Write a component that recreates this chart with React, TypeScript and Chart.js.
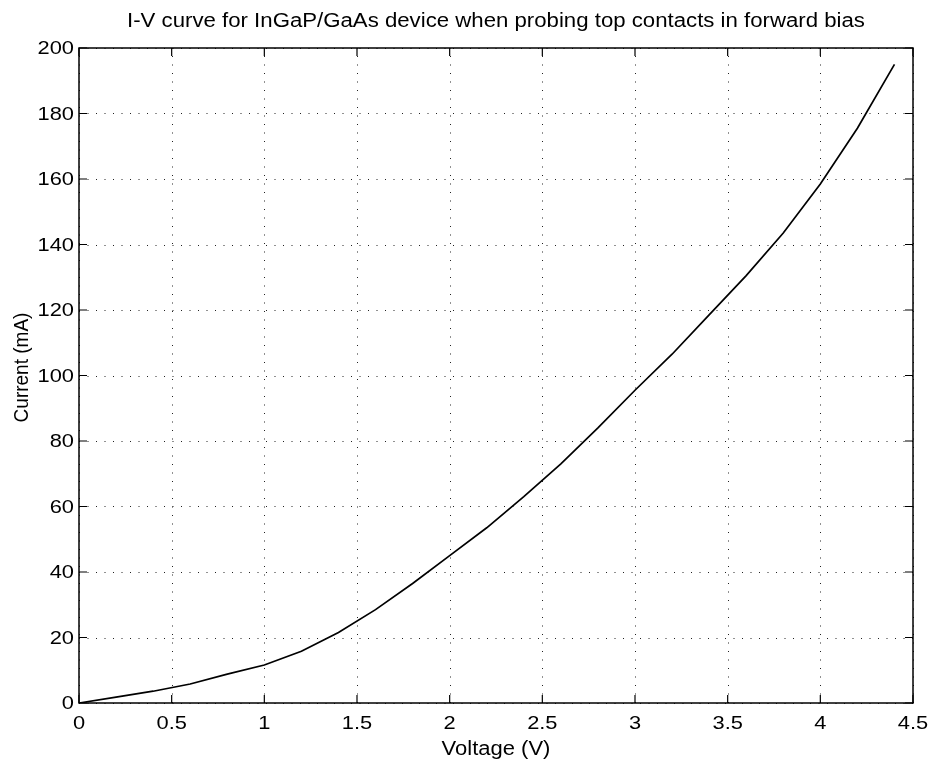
import React, { useEffect, useRef } from "react";
import { Chart, registerables } from "chart.js";

Chart.register(...registerables);

const voltage = [0, 0.2, 0.4, 0.6, 0.8, 1.0, 1.2, 1.4, 1.6, 1.8, 2.0, 2.2, 2.4, 2.6, 2.8, 3.0, 3.2, 3.4, 3.6, 3.8, 4.0, 4.2, 4.4];
const current = [0, 1.8, 3.6, 5.8, 8.8, 11.6, 15.8, 21.5, 28.5, 36.5, 45, 53.5, 63, 73, 84, 95.5, 106.5, 118.5, 130.5, 143.5, 158.5, 175.5, 195];

const xTicks = [0, 0.5, 1, 1.5, 2, 2.5, 3, 3.5, 4, 4.5];
const xTickLabels = ["0", "0.5", "1", "1.5", "2", "2.5", "3", "3.5", "4", "4.5"];
const yTicks = [0, 20, 40, 60, 80, 100, 120, 140, 160, 180, 200];
const yTickLabels = ["0", "20", "40", "60", "80", "100", "120", "140", "160", "180", "200"];

const titleText = "I-V curve for InGaP/GaAs device when probing top contacts in forward bias";
const xTitle = "Voltage (V)";
const yTitle = "Current (mA)";

const FONT = '"Liberation Sans", Arial, Helvetica, sans-serif';

function stretchedText(
  ctx: CanvasRenderingContext2D,
  text: string,
  x: number,
  y: number,
  size: number,
  sx: number,
  align: CanvasTextAlign,
  baseline: CanvasTextBaseline
) {
  ctx.save();
  ctx.translate(x, y);
  ctx.scale(sx, 1);
  ctx.font = `${size}px ${FONT}`;
  ctx.fillStyle = "#000";
  ctx.textAlign = align;
  ctx.textBaseline = baseline;
  ctx.fillText(text, 0, 0);
  ctx.restore();
}

const framePlugin = {
  id: "matlabFrame",
  beforeDatasetsDraw(chart: any) {
    const { ctx, chartArea: a, scales } = chart;
    const xs = scales.x;
    const ys = scales.y;
    ctx.save();
    ctx.strokeStyle = "#222";
    ctx.lineWidth = 1;
    ctx.setLineDash([1, 7.5]);
    xTicks.forEach((v) => {
      const px = Math.round(xs.getPixelForValue(v)) + 0.5;
      ctx.beginPath();
      ctx.moveTo(px, a.bottom);
      ctx.lineTo(px, a.top);
      ctx.stroke();
    });
    yTicks.forEach((v) => {
      const py = Math.round(ys.getPixelForValue(v)) + 0.5;
      ctx.beginPath();
      ctx.moveTo(a.left, py);
      ctx.lineTo(a.right, py);
      ctx.stroke();
    });
    ctx.restore();
  },
  afterDatasetsDraw(chart: any) {
    const { ctx, chartArea: a, scales } = chart;
    const xs = scales.x;
    const ys = scales.y;
    const tl = 8;
    ctx.save();
    ctx.setLineDash([]);
    ctx.strokeStyle = "#000";
    ctx.lineWidth = 1.5;
    ctx.strokeRect(a.left, a.top, a.right - a.left, a.bottom - a.top);
    ctx.lineWidth = 1.2;
    xTicks.forEach((v) => {
      const px = xs.getPixelForValue(v);
      ctx.beginPath();
      ctx.moveTo(px, a.bottom);
      ctx.lineTo(px, a.bottom - tl);
      ctx.moveTo(px, a.top);
      ctx.lineTo(px, a.top + tl);
      ctx.stroke();
    });
    yTicks.forEach((v) => {
      const py = ys.getPixelForValue(v);
      ctx.beginPath();
      ctx.moveTo(a.left, py);
      ctx.lineTo(a.left + tl, py);
      ctx.moveTo(a.right, py);
      ctx.lineTo(a.right - tl, py);
      ctx.stroke();
    });
    ctx.restore();

    // tick labels
    xTicks.forEach((v, i) => {
      stretchedText(ctx, xTickLabels[i], xs.getPixelForValue(v), a.bottom + 21, 19, 1.15, "center", "middle");
    });
    yTicks.forEach((v, i) => {
      stretchedText(ctx, yTickLabels[i], a.left - 5, ys.getPixelForValue(v) + 1, 19, 1.15, "right", "middle");
    });

    // titles
    const cx = (a.left + a.right) / 2;
    stretchedText(ctx, titleText, cx, 27, 20, 1.11, "center", "alphabetic");
    stretchedText(ctx, xTitle, cx, 755, 20, 1.1, "center", "alphabetic");

    ctx.save();
    ctx.translate(22, (a.top + a.bottom) / 2 - 8);
    ctx.rotate(-Math.PI / 2);
    ctx.scale(1, 1.1);
    ctx.font = `19px ${FONT}`;
    ctx.fillStyle = "#000";
    ctx.textAlign = "center";
    ctx.textBaseline = "middle";
    ctx.fillText(yTitle, 0, 0);
    ctx.restore();
  },
};

export default function App() {
  const ref = useRef<HTMLCanvasElement | null>(null);

  useEffect(() => {
    if (!ref.current) return;
    const chart = new Chart(ref.current, {
      type: "line",
      data: {
        datasets: [
          {
            data: voltage.map((v, i) => ({ x: v, y: current[i] })),
            borderColor: "#000",
            borderWidth: 1.7,
            pointRadius: 0,
            tension: 0,
            fill: false,
          },
        ],
      },
      options: {
        animation: false,
        responsive: false,
        events: [],
        layout: { padding: { left: 79, right: 22, top: 48, bottom: 63 } },
        plugins: {
          legend: { display: false },
          title: { display: false },
          tooltip: { enabled: false },
        },
        scales: {
          x: { type: "linear", display: false, min: 0, max: 4.5 },
          y: { type: "linear", display: false, min: 0, max: 200 },
        },
      },
      plugins: [framePlugin],
    });
    return () => chart.destroy();
  }, []);

  return (
    <div style={{ position: "fixed", left: 0, top: 0, width: 935, height: 766, background: "#fff" }}>
      <canvas ref={ref} width={935} height={766} style={{ display: "block" }} />
    </div>
  );
}
